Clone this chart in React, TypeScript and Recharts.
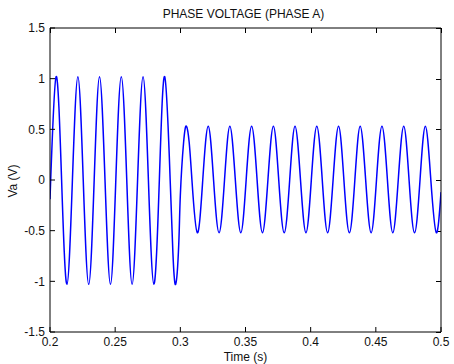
import React from 'react';
import { LineChart, Line, XAxis, YAxis, ReferenceLine } from 'recharts';

// Sample times (s): peaks, zero crossings and troughs
const timeS = [
  0.2, 0.2047, 0.2089, 0.213, 0.2172, 0.2214, 0.2255, 0.2297, 0.2339, 0.238,
  0.2422, 0.2464, 0.2505, 0.2547, 0.2589, 0.263, 0.2672, 0.2714, 0.2755, 0.2797,
  0.2839, 0.288, 0.2922, 0.2943, 0.2964, 0.2988, 0.3, 0.3025, 0.3047, 0.3068,
  0.3089, 0.313, 0.3172, 0.3214, 0.3255, 0.3297, 0.3339, 0.338, 0.3422, 0.3464,
  0.3505, 0.3547, 0.3589, 0.363, 0.3672, 0.3714, 0.3755, 0.3797, 0.3839, 0.388,
  0.3922, 0.3964, 0.4005, 0.4047, 0.4089, 0.413, 0.4172, 0.4214, 0.4255, 0.4297,
  0.4339, 0.438, 0.4422, 0.4464, 0.4505, 0.4547, 0.4589, 0.463, 0.4672, 0.4714,
  0.4755, 0.4797, 0.4839, 0.488, 0.4922, 0.4964, 0.5,
];

// Phase A voltage (V) at those times
const voltageA = [
  -0.19, 1.02, 0, -1.03, 0, 1.02, 0, -1.03, 0, 1.02,
  0, -1.03, 0, 1.02, 0, -1.03, 0, 1.02, 0, -1.03,
  0, 1.02, 0, -0.72, -1.03, -0.63, -0.15, 0.37, 0.53, 0.37,
  0, -0.52, 0, 0.53, 0, -0.52, 0, 0.53, 0, -0.52,
  0, 0.53, 0, -0.52, 0, 0.53, 0, -0.52, 0, 0.53,
  0, -0.52, 0, 0.53, 0, -0.52, 0, 0.53, 0, -0.52,
  0, 0.53, 0, -0.52, 0, 0.53, 0, -0.52, 0, 0.53,
  0, -0.52, 0, 0.53, 0, -0.52, -0.12,
];

const xTicks = [0.2, 0.25, 0.3, 0.35, 0.4, 0.45, 0.5];
const yTicks = [-1.5, -1, -0.5, 0, 0.5, 1, 1.5];
const xDomain = [0.2, 0.5];
const yDomain = [-1.5, 1.5];

const titleText = 'PHASE VOLTAGE (PHASE A)';
const xLabelText = 'Time (s)';
const yLabelText = 'Va (V)';

const data = timeS.map((t, i) => ({ t, v: voltageA[i] }));

const FONT = '"Liberation Sans", Arial, Helvetica, sans-serif';
const TXT = '#111';
const TICK_LEN = 5;

// the main axes use inward (negative) tick lines; text is offset back out
const XTick = (props: any) => {
  const { x, y, payload } = props;
  return (
    <text x={x} y={y} dy={14 + TICK_LEN} textAnchor="middle" fontFamily={FONT} fontSize={12} fill={TXT}>
      {String(payload.value)}
    </text>
  );
};

const YTick = (props: any) => {
  const { x, y, payload } = props;
  return (
    <text x={x - 5 - TICK_LEN} y={y} dy={4.3} textAnchor="end" fontFamily={FONT} fontSize={12} fill={TXT}>
      {String(payload.value)}
    </text>
  );
};

const NoTick = () => <g />;

// inward tick mark at the top end of a vertical reference line
const TopTickMark = (props: any) => {
  const { x1, y1, y2 } = props;
  const top = Math.min(y1, y2);
  const xx = Math.round(x1) + 0.5;
  return <line x1={xx} y1={top} x2={xx} y2={top + TICK_LEN} stroke="#000" strokeWidth={1} shapeRendering="crispEdges" />;
};

// inward tick mark at the right end of a horizontal reference line
const RightTickMark = (props: any) => {
  const { x1, x2, y1 } = props;
  const right = Math.max(x1, x2);
  const yy = Math.round(y1) + 0.5;
  return <line x1={right} y1={yy} x2={right - TICK_LEN} y2={yy} stroke="#000" strokeWidth={1} shapeRendering="crispEdges" />;
};

const XLabel = (props: any) => {
  const vb = props.viewBox || { x: 50, y: 332, width: 391, height: 32 };
  return (
    <text x={vb.x + vb.width / 2} y={vb.y + 29} textAnchor="middle" fontFamily={FONT} fontSize={12} fill={TXT}>
      {xLabelText}
    </text>
  );
};

const TitleLabel = (props: any) => {
  const vb = props.viewBox || { x: 50, y: 27, width: 391, height: 1 };
  return (
    <text x={vb.x + vb.width / 2 - 2} y={vb.y + vb.height - 9.7} textAnchor="middle" fontFamily={FONT} fontSize={12} fill={TXT}>
      {titleText}
    </text>
  );
};

const YLabel = (props: any) => {
  const vb = props.viewBox || { x: 0, y: 28, width: 50, height: 304 };
  const cx = vb.x + 17;
  const cy = vb.y + vb.height / 2 + 1;
  return (
    <text
      x={cx}
      y={cy}
      textAnchor="middle"
      transform={`rotate(-90, ${cx}, ${cy})`}
      fontFamily={FONT}
      fontSize={12}
      fill={TXT}
    >
      {yLabelText}
    </text>
  );
};

export default function App() {
  return (
    <div style={{ position: 'absolute', left: 0, top: 0, width: 454, height: 364, background: '#fff' }}>
      <LineChart width={454} height={364} data={data} margin={{ top: 27, right: 12, bottom: 0, left: 0 }}>
        <XAxis
          xAxisId="main"
          dataKey="t"
          type="number"
          domain={xDomain}
          ticks={xTicks}
          allowDataOverflow
          height={32}
          tickSize={-TICK_LEN}
          tickMargin={0}
          tickLine={{ stroke: '#000' }}
          axisLine={{ stroke: '#000' }}
          tick={XTick}
          label={XLabel}
          interval={0}
        />
        <XAxis
          xAxisId="top"
          dataKey="t"
          type="number"
          orientation="top"
          domain={xDomain}
          ticks={xTicks}
          allowDataOverflow
          height={1}
          tick={NoTick}
          tickSize={0}
          tickLine={false}
          axisLine={{ stroke: '#000' }}
          label={TitleLabel}
          interval={0}
        />
        <YAxis
          yAxisId="main"
          type="number"
          domain={yDomain}
          ticks={yTicks}
          allowDataOverflow
          width={50}
          tickSize={-TICK_LEN}
          tickMargin={0}
          tickLine={{ stroke: '#000' }}
          axisLine={{ stroke: '#000' }}
          tick={YTick}
          label={YLabel}
          interval={0}
        />
        <YAxis
          yAxisId="right"
          type="number"
          orientation="right"
          domain={yDomain}
          ticks={yTicks}
          allowDataOverflow
          width={1}
          tick={NoTick}
          tickSize={0}
          tickLine={false}
          axisLine={{ stroke: '#000' }}
          interval={0}
        />
        {xTicks.map((t) => (
          <ReferenceLine key={`xt${t}`} xAxisId="main" yAxisId="main" x={t} shape={TopTickMark} ifOverflow="extendDomain" />
        ))}
        {yTicks.map((v) => (
          <ReferenceLine key={`yt${v}`} xAxisId="main" yAxisId="main" y={v} shape={RightTickMark} ifOverflow="extendDomain" />
        ))}
        <Line
          xAxisId="main"
          yAxisId="main"
          type="natural"
          dataKey="v"
          stroke="#0000ff"
          strokeWidth={1.5}
          dot={false}
          activeDot={false}
          isAnimationActive={false}
        />
      </LineChart>
    </div>
  );
}
